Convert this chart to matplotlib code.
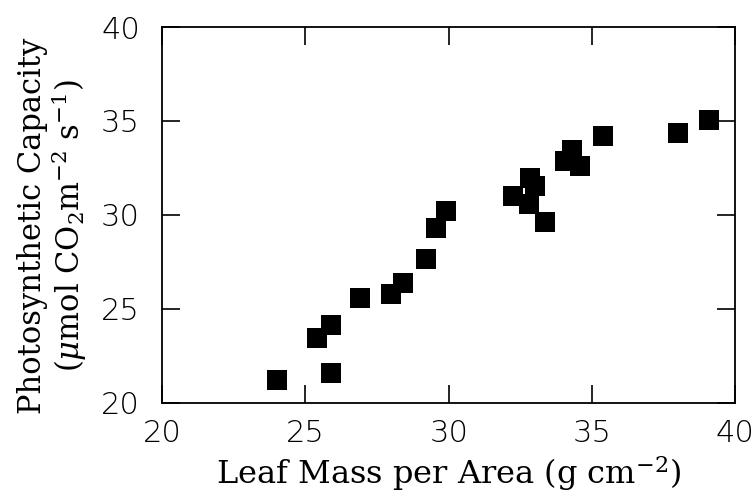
import matplotlib
matplotlib.use("Agg")
import matplotlib.pyplot as plt

# === Data ===
lma = [24.0, 25.9, 25.4, 25.9, 26.9, 28.0, 28.4, 29.2, 29.55, 29.9,
       32.25, 32.85, 33.0, 32.8, 33.35, 34.05, 34.3, 34.6, 35.4, 38.0, 39.1]
capacity = [21.2, 21.6, 23.45, 24.15, 25.6, 25.8, 26.4, 27.65, 29.3, 30.2,
            31.0, 31.95, 31.55, 30.6, 29.6, 32.85, 33.45, 32.6, 34.2, 34.35, 35.05]
xticks = [20, 25, 30, 35, 40]
yticks = [20, 25, 30, 35, 40]

plt.rcParams['mathtext.fontset'] = 'dejavuserif'

fig = plt.figure(figsize=(7.54, 5.01), dpi=100)
ax = fig.add_axes([0.215, 0.196, 0.76, 0.75])

ax.scatter(lma, capacity, marker='s', s=200, color='black', linewidths=0)

ax.set_xlim(20, 40)
ax.set_ylim(20, 40)
ax.set_xticks(xticks)
ax.set_yticks(yticks)
ax.tick_params(direction='in', length=13, width=1.2, top=True, right=True,
               labelsize=22)
ax.tick_params(axis='x', pad=12)
ax.tick_params(axis='y', pad=16)
for lbl in ax.get_xticklabels() + ax.get_yticklabels():
    lbl.set_fontfamily('DejaVu Sans')
    lbl.set_fontweight('light')
for sp in ax.spines.values():
    sp.set_linewidth(1.3)

ax.set_xlabel(r"Leaf Mass per Area (g cm$^{-2}$)", family='DejaVu Serif',
              fontsize=23, labelpad=4)
ax.set_ylabel("Photosynthetic Capacity\n" + r"($\mu$mol CO$_2$m$^{-2}$ s$^{-1}$)",
              family='DejaVu Serif', fontsize=22, linespacing=1.05)
ax.yaxis.set_label_coords(-0.128, 0.47)

plt.savefig("out.png", dpi=100)
plt.close()
